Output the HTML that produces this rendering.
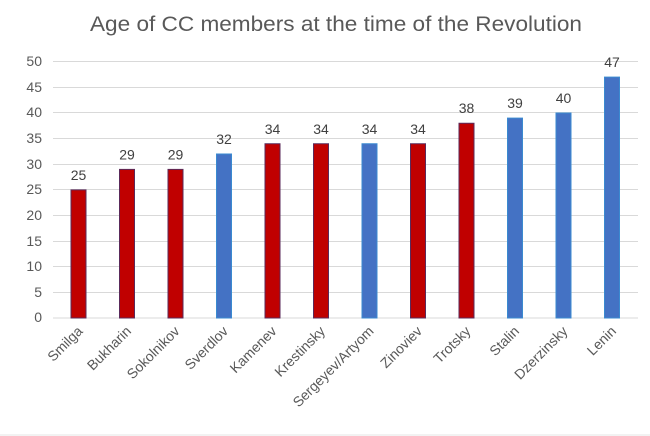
<!DOCTYPE html>
<html><head><meta charset="utf-8"><style>html,body{margin:0;padding:0;background:#fff}svg{display:block}</style></head>
<body>
<svg width="650" height="436" xmlns="http://www.w3.org/2000/svg" font-family="Liberation Sans, sans-serif">
<rect width="650" height="436" fill="#fff"/>
<text x="336" y="31" text-anchor="middle" font-size="21" fill="#595959" textLength="492" lengthAdjust="spacingAndGlyphs">Age of CC members at the time of the Revolution</text>
<g stroke="#d9d9d9" stroke-width="1">
<line x1="53" x2="638" y1="61.5" y2="61.5"/><line x1="53" x2="638" y1="87.5" y2="87.5"/>
<line x1="53" x2="638" y1="112.5" y2="112.5"/><line x1="53" x2="638" y1="138.5" y2="138.5"/>
<line x1="53" x2="638" y1="164.5" y2="164.5"/><line x1="53" x2="638" y1="189.5" y2="189.5"/>
<line x1="53" x2="638" y1="215.5" y2="215.5"/><line x1="53" x2="638" y1="241.5" y2="241.5"/>
<line x1="53" x2="638" y1="266.5" y2="266.5"/><line x1="53" x2="638" y1="292.5" y2="292.5"/>
<line x1="53" x2="638" y1="318" y2="318"/>
</g>
<line x1="0" x2="650" y1="435" y2="435" stroke="#e6e6e6"/>
<g font-size="14" fill="#595959" text-anchor="end">
<text x="42" y="66">50</text><text x="42" y="92">45</text><text x="42" y="117">40</text>
<text x="42" y="143">35</text><text x="42" y="169">30</text><text x="42" y="194">25</text>
<text x="42" y="220">20</text><text x="42" y="246">15</text><text x="42" y="271">10</text>
<text x="42" y="297">5</text><text x="42" y="322">0</text>
</g>
<g stroke-width="1">
<rect x="71" y="189.9" width="15" height="128.1" fill="#C00000" stroke="#5a2a5a"/>
<rect x="119.5" y="169.4" width="15" height="148.6" fill="#C00000" stroke="#5a2a5a"/>
<rect x="168" y="169.4" width="15" height="148.6" fill="#C00000" stroke="#5a2a5a"/>
<rect x="216.5" y="154" width="15" height="164" fill="#4472C4" stroke="#3a8ad0"/>
<rect x="265" y="143.75" width="15" height="174.25" fill="#C00000" stroke="#5a2a5a"/>
<rect x="313.5" y="143.75" width="15" height="174.25" fill="#C00000" stroke="#5a2a5a"/>
<rect x="362" y="143.75" width="15" height="174.25" fill="#4472C4" stroke="#3a8ad0"/>
<rect x="410.5" y="143.75" width="15" height="174.25" fill="#C00000" stroke="#5a2a5a"/>
<rect x="459" y="123.25" width="15" height="194.75" fill="#C00000" stroke="#5a2a5a"/>
<rect x="507.5" y="118.1" width="15" height="199.9" fill="#4472C4" stroke="#3a8ad0"/>
<rect x="556" y="113" width="15" height="205" fill="#4472C4" stroke="#3a8ad0"/>
<rect x="604.5" y="77.1" width="15" height="240.9" fill="#4472C4" stroke="#3a8ad0"/>
</g>
<g font-size="14" fill="#404040" text-anchor="middle">
<text x="78.5" y="180">25</text><text x="127" y="159.5">29</text><text x="175.5" y="159.5">29</text>
<text x="224" y="144">32</text><text x="272.5" y="134">34</text><text x="321" y="134">34</text>
<text x="369.5" y="134">34</text><text x="418" y="134">34</text><text x="466.5" y="113">38</text>
<text x="515" y="108">39</text><text x="563.5" y="103">40</text><text x="612" y="67">47</text>
</g>
<g font-size="14" fill="#595959" text-anchor="end">
<text transform="translate(83.5,332) rotate(-45)">Smilga</text>
<text transform="translate(132,332) rotate(-45)">Bukharin</text>
<text transform="translate(180.5,332) rotate(-45)">Sokolnikov</text>
<text transform="translate(229,332) rotate(-45)">Sverdlov</text>
<text transform="translate(277.5,332) rotate(-45)">Kamenev</text>
<text transform="translate(326,332) rotate(-45)">Krestinsky</text>
<text transform="translate(374.5,332) rotate(-45)">Sergeyev/Artyom</text>
<text transform="translate(423,332) rotate(-45)">Zinoviev</text>
<text transform="translate(471.5,332) rotate(-45)">Trotsky</text>
<text transform="translate(520,332) rotate(-45)">Stalin</text>
<text transform="translate(568.5,332) rotate(-45)">Dzerzinsky</text>
<text transform="translate(617,332) rotate(-45)">Lenin</text>
</g>
</svg>
</body></html>
